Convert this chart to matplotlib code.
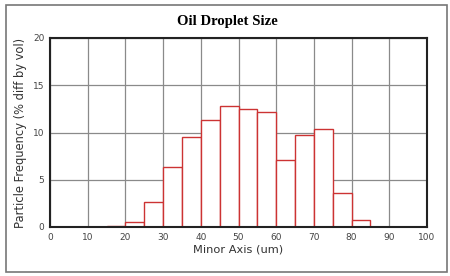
import matplotlib.pyplot as plt
from matplotlib.patches import Rectangle

# bin left edges (um) and heights (% diff by vol)
bin_edges = [10, 15, 20, 25, 30, 35, 40, 45, 50, 55, 60, 65, 70, 75, 80]
freq = [0.05, 0.15, 0.5, 2.6, 6.4, 9.5, 11.3, 12.8, 12.5, 12.2, 7.1, 9.7, 10.4, 3.6, 0.7]
bin_width = 5
x_ticks = list(range(0, 101, 10))
y_ticks = [0, 5, 10, 15, 20]

fig = plt.figure(figsize=(4.5, 2.76), dpi=100)
ax = fig.add_axes([50 / 450, 1 - 227 / 276, 377 / 450, 189 / 276])

# outer frame around the whole chart
fig.patches.append(Rectangle((6 / 450, 1 - 272 / 276), 441 / 450, 267 / 276,
                             transform=fig.transFigure, fill=False,
                             edgecolor="#777777", linewidth=1.2))

ax.bar(bin_edges, freq, width=bin_width, align="edge", color="white",
       edgecolor="#cc3333", linewidth=1.0, zorder=3)

ax.set_xlim(0, 100)
ax.set_ylim(0, 20)
ax.set_xticks(x_ticks)
ax.set_yticks(y_ticks)
ax.grid(True, color="#8a8a8a", linewidth=0.9, zorder=0)
ax.tick_params(length=0, labelsize=6.5, colors="#444444", pad=4)
for s in ax.spines.values():
    s.set_linewidth(1.5)
    s.set_color("#222222")
    s.set_zorder(4)

ax.set_xlabel("Minor Axis (um)", fontsize=8.2, color="#333333", labelpad=2)
ax.set_ylabel("Particle Frequency (% diff by vol)", fontsize=8.3, color="#333333", labelpad=4)
fig.text(227 / 450, 1 - 22 / 276, "Oil Droplet Size", ha="center", va="center",
         fontsize=10.6, fontweight="bold", family="Liberation Serif")

fig.savefig("out.png", dpi=100)
